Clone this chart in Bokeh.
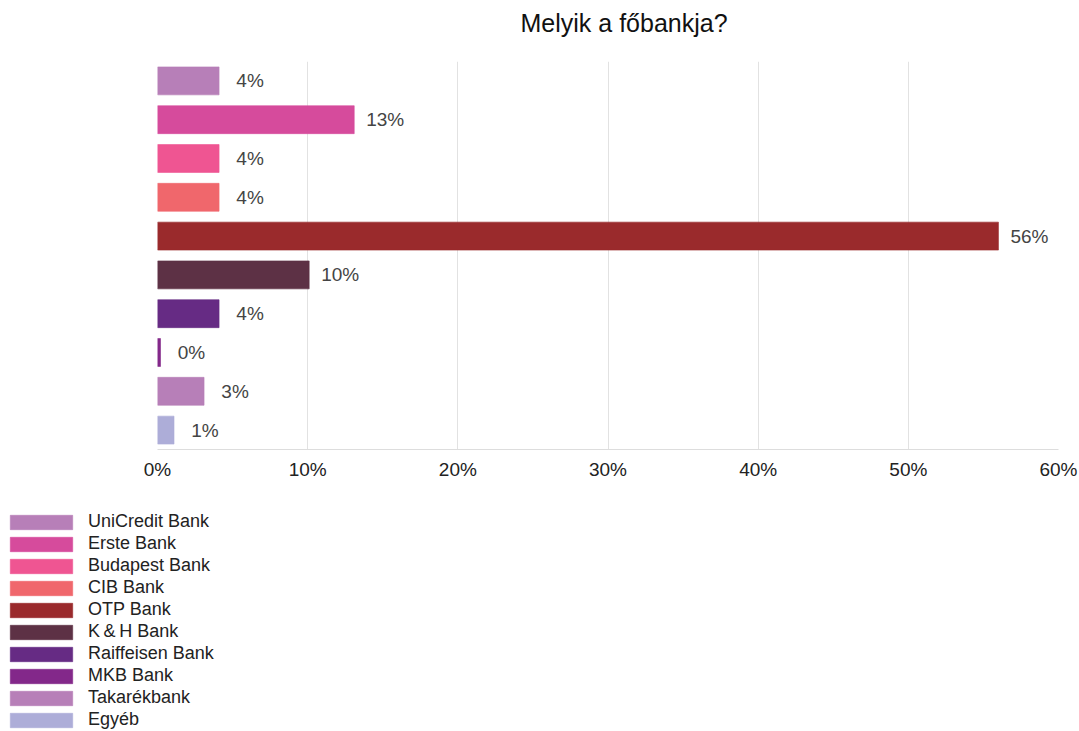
from bokeh.plotting import figure
from bokeh.layouts import column
from bokeh.models import (ColumnDataSource, FactorRange, Range1d, Legend, LegendItem,
                          PrintfTickFormatter, FixedTicker, Title)
from bokeh.core.properties import value
from bokeh.embed import file_html
from bokeh.resources import INLINE

# ---- data ----
banks = ["UniCredit Bank", "Erste Bank", "Budapest Bank", "CIB Bank", "OTP Bank",
         "K\u2009&\u2009H Bank", "Raiffeisen Bank", "MKB Bank", "Takarékbank", "Egyéb"]
shares = [4.1, 13.1, 4.1, 4.1, 56.0, 10.1, 4.1, 0.2, 3.1, 1.1]
colors = ["#b77fb8", "#d64b9c", "#ef5592", "#f0676c", "#9a2a2c",
          "#5d3145", "#662b84", "#83288a", "#b77fb8", "#adadd8"]
x_ticks = [0, 10, 20, 30, 40, 50, 60]
title_text = "Melyik a főbankja?"

labels = [f"{round(v)}%" for v in shares]

p = figure(width=1079, height=500, output_backend="svg", toolbar_location=None,
           x_range=Range1d(0, 60),
           y_range=FactorRange(*reversed(banks), range_padding=0),
           min_border_left=157, min_border_right=21, min_border_top=61,
           min_border_bottom=51, title=None)
p.frame_align = False
p.outline_line_color = None
p.background_fill_color = "white"
p.border_fill_color = "white"

spacer = Title(text=" ", text_font_size="1px", standoff=22)
p.add_layout(spacer, "above")
t = Title(text=title_text, align="left", offset=363, text_font_size="25px",
          text_font="Liberation Sans", text_font_style="normal", text_color="#111111",
          standoff=0)
p.add_layout(t, "above")

sources = []
for b, v, c, lab in zip(banks, shares, colors, labels):
    src = ColumnDataSource(dict(y=[b], x=[v], lab=[lab]))
    sources.append(src)
    p.hbar(y="y", right="x", left=0, height=0.72, source=src,
           fill_color=c, line_color=c, line_alpha=0.6)
    p.text(x="x", y="y", text="lab", source=src, x_offset=31,
           text_align="center", text_baseline="middle",
           text_font=value("Liberation Sans"), text_font_size="19px", text_color="#444444")

p.yaxis.visible = False
p.ygrid.grid_line_color = None
p.xgrid.grid_line_color = "#e2e2e2"
p.xaxis.ticker = FixedTicker(ticks=x_ticks)
p.xaxis.formatter = PrintfTickFormatter(format="%d%%")
p.xaxis.axis_line_color = "#dddddd"
p.xaxis.major_tick_line_color = None
p.xaxis.minor_tick_line_color = None
p.xaxis.major_label_standoff = 3
p.xaxis.major_label_text_font = "Liberation Sans"
p.xaxis.major_label_text_font_size = "19px"
p.xaxis.major_label_text_color = "#222222"

# ---- legend panel ----
p2 = figure(width=1079, height=231, output_backend="svg", toolbar_location=None,
            x_range=Range1d(0, 60), y_range=FactorRange(*reversed(banks)),
            x_axis_location=None, y_axis_location=None,
            min_border=0, title=None)
p2.frame_align = False
p2.grid.grid_line_color = None
p2.outline_line_color = None
items = []
for b, c, src in zip(banks, colors, sources):
    r = p2.hbar(y="y", right="x", left=0, height=0.72, source=src,
                fill_color=c, line_color=c, line_alpha=0.6, visible=False)
    items.append(LegendItem(label=b, renderers=[r]))
legend = Legend(items=items, location=(2, 1), orientation="vertical",
                glyph_width=78, glyph_height=18, label_height=18, spacing=1,
                label_standoff=8, padding=0, margin=0,
                border_line_color=None, background_fill_alpha=0,
                label_text_font="Liberation Sans", label_text_font_size="18px",
                label_text_color="#222222")
p2.add_layout(legend, "center")

layout = column(p, p2, spacing=0)
open("out.html", "w").write(file_html(layout, INLINE))
